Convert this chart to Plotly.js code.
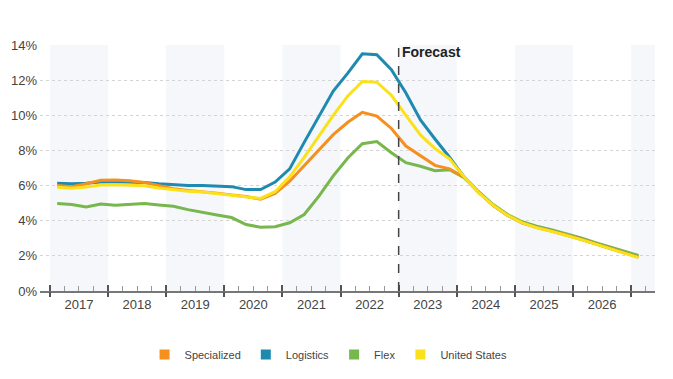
<!DOCTYPE html>
<html>
<head>
<meta charset="utf-8">
<script src="https://cdn.plot.ly/plotly-3.0.1.min.js"></script>
<style>html,body{margin:0;padding:0;background:#fff;}#chart{width:673px;height:379px;}</style>
</head>
<body>
<div id="chart"></div>
<script>
// Quarterly vacancy rates, 2017 Q1 – 2027 Q1 (values in %)
const firstYear = 2017;
const yearLabels = ['2017','2018','2019','2020','2021','2022','2023','2024','2025','2026'];
const shadedYears = [2017, 2019, 2021, 2023, 2025, 2027];
const forecastStart = 2023;

const specialized = [6.00,5.94,6.10,6.30,6.32,6.28,6.17,5.98,5.82,5.72,5.66,5.57,5.47,5.38,5.22,5.55,6.25,
  7.13,8.00,8.90,9.60,10.17,9.95,9.25,8.25,7.72,7.15,6.95,
  6.48,5.62,4.88,4.30,3.88,3.62,3.42,3.20,2.96,2.70,2.45,2.20,1.93];
const logistics = [6.13,6.10,6.13,6.20,6.22,6.22,6.18,6.10,6.05,6.00,6.00,5.98,5.94,5.77,5.77,6.20,6.95,
  8.46,9.92,11.38,12.40,13.50,13.45,12.60,11.27,9.73,8.65,7.61,
  6.50,5.62,4.88,4.30,3.88,3.62,3.42,3.20,2.96,2.70,2.45,2.20,1.93];
const flex = [4.98,4.92,4.78,4.95,4.88,4.92,4.98,4.90,4.82,4.63,4.50,4.33,4.18,3.78,3.63,3.66,3.88,
  4.35,5.38,6.55,7.57,8.38,8.50,7.87,7.30,7.10,6.85,6.90,
  6.45,5.65,4.92,4.35,3.94,3.69,3.49,3.27,3.03,2.77,2.52,2.27,2.02];
const unitedStates = [5.90,5.85,5.92,6.03,6.04,6.02,5.99,5.86,5.76,5.68,5.63,5.55,5.47,5.38,5.27,5.65,6.50,
  7.60,8.80,10.00,11.10,11.92,11.88,11.14,10.00,8.88,8.11,7.52,
  6.50,5.60,4.88,4.30,3.88,3.60,3.40,3.18,2.94,2.68,2.42,2.17,1.90];

const seriesNames = ['Specialized','Logistics','Flex','United States'];
const seriesColors = ['#f5901f','#1f8ab0','#77b74c','#fae11a'];
const seriesData = [specialized, logistics, flex, unitedStates];

// quarter midpoints as decimal years
const xq = specialized.map((_, i) => firstYear + 0.125 + 0.25 * i);
const xRange = [2016.83, 2027.41];

const drawOrder = [2, 1, 0, 3];
const traces = [];
drawOrder.forEach(k => {
  traces.push({x: xq, y: seriesData[k], type: 'scatter', mode: 'lines',
    line: {color: seriesColors[k], width: 3}, showlegend: false, hoverinfo: 'skip'});
});
seriesNames.forEach((n, k) => {
  traces.push({x: [null], y: [null], type: 'scatter', mode: 'markers', name: n,
    marker: {symbol: 'square', size: 10, color: seriesColors[k]}, hoverinfo: 'skip'});
});
traces.push({x: [null], y: [null], xaxis: 'x2', yaxis: 'y', showlegend: false, hoverinfo: 'skip'});
traces.push({x: [null], y: [null], xaxis: 'x3', yaxis: 'y', showlegend: false, hoverinfo: 'skip'});

const boundaries = yearLabels.map(y => +y).concat([2027]);
const centers = yearLabels.map(y => +y + 0.5);

const shapes = shadedYears.map(y => ({
  type: 'rect', xref: 'x', yref: 'paper', x0: y, x1: Math.min(y + 1, xRange[1]), y0: 0, y1: 1,
  fillcolor: '#f5f7fa', line: {width: 0}, layer: 'below'
}));
shapes.push({type: 'line', xref: 'x', yref: 'paper', x0: forecastStart, x1: forecastStart, y0: 0, y1: 1,
  line: {color: '#444', width: 1.5, dash: 'dash'}});

const font = 'Liberation Sans, Arial, sans-serif';
const layout = {
  width: 673, height: 379,
  margin: {l: 40, r: 18, t: 45, b: 88, autoexpand: false},
  paper_bgcolor: '#fff', plot_bgcolor: 'rgba(0,0,0,0)',
  font: {family: font, color: '#444'},
  showlegend: true,
  legend: {orientation: 'h', x: 0.170, xanchor: 'left', y: -0.258, yanchor: 'middle',
    font: {size: 11, color: '#444', family: font}, bgcolor: 'rgba(0,0,0,0)'},
  xaxis: {range: xRange, tickmode: 'array', tickvals: centers, ticktext: yearLabels,
    ticks: '', showgrid: false, zeroline: false, showline: true, linecolor: '#777', linewidth: 1.5,
    tickfont: {size: 13, color: '#444'}, ticklabelstandoff: 1, fixedrange: true, automargin: false},
  xaxis2: {overlaying: 'x', anchor: 'y', range: xRange, tickmode: 'array', tickvals: boundaries,
    ticks: 'inside', ticklen: 6, tickwidth: 2, tickcolor: '#555', showticklabels: false,
    showgrid: false, zeroline: false, showline: false, automargin: false,
    minor: {tickmode: 'linear', tick0: 2017, dtick: 0.25, ticks: 'inside', ticklen: 5, tickwidth: 1, tickcolor: '#999', showgrid: false}},
  xaxis3: {overlaying: 'x', anchor: 'y', range: xRange, tickmode: 'array', tickvals: boundaries,
    ticks: 'outside', ticklen: 5, tickwidth: 2, tickcolor: '#555', showticklabels: false,
    showgrid: false, zeroline: false, showline: false, automargin: false},
  yaxis: {range: [0, 14], tickmode: 'array', tickvals: [0,2,4,6,8,10,12,14],
    ticktext: ['0%','2%','4%','6%','8%','10%','12%','14%'], ticks: '', automargin: false,
    showgrid: true, gridcolor: '#d4d4d4', griddash: 'dot', gridwidth: 1,
    zeroline: false, showline: false, tickfont: {size: 13, color: '#444'}, ticklabelstandoff: 2},
  shapes: shapes,
  annotations: [{xref: 'x', yref: 'paper', x: forecastStart, y: 1, xanchor: 'left', yanchor: 'top',
    xshift: 1, yshift: 3, text: '<b>Forecast</b>', showarrow: false, font: {size: 14, color: '#222', family: font}}]
};

Plotly.newPlot('chart', traces, layout, {displayModeBar: false, staticPlot: true});
</script>
</body>
</html>
